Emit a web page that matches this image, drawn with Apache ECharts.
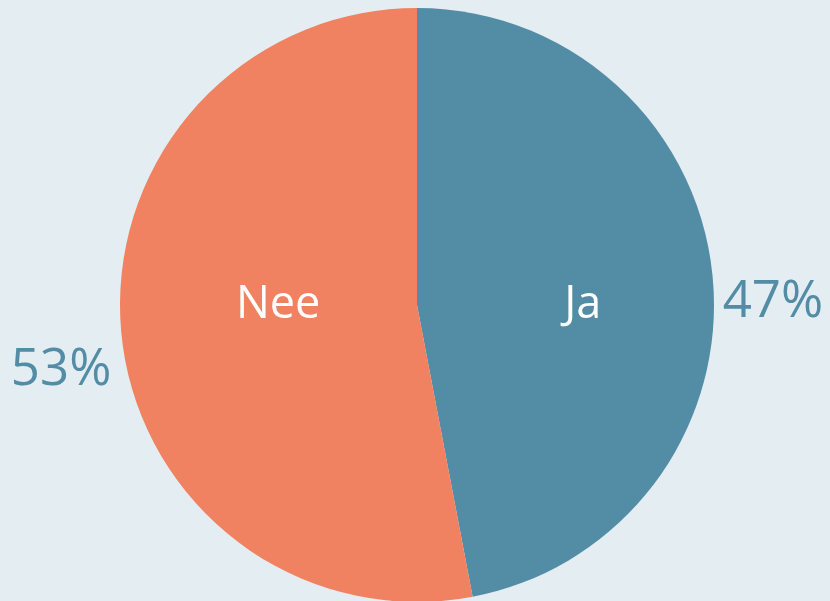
<!DOCTYPE html>
<html>
<head>
<meta charset="utf-8">
<script src="https://cdn.jsdelivr.net/npm/echarts@6/dist/echarts.min.js"></script>
<style>
  html, body { margin: 0; padding: 0; background: #e3edf2; }
  #chart { width: 830px; height: 601px; }
</style>
</head>
<body>
<div id="chart"></div>
<script>
// data
var categories = ['Ja', 'Nee']
var values = [47, 53]
var colors = ['#528ca5', '#f08261']
// label nudges so labels sit where the original has them
var innerOffsets = [[15, 14], [12, -14]]
var outerOffsets = [[0, 26], [0, 37]]

var chart = echarts.init(document.getElementById('chart'))
var font = '"Open Sans", Lato, sans-serif'

chart.setOption({
  backgroundColor: '#e3edf2',
  animation: false,
  series: [
    {
      type: 'pie',
      center: [417, 305],
      radius: 297,
      startAngle: 90,
      clockwise: true,
      silent: true,
      label: {
        show: true,
        position: 'inside',
        color: '#ffffff',
        fontFamily: font,
        fontSize: 45,
        formatter: '{b}'
      },
      labelLine: { show: false },
      data: categories.map(function (c, i) {
        return {
          name: c,
          value: values[i],
          itemStyle: { color: colors[i] },
          label: { offset: innerOffsets[i] }
        }
      })
    },
    {
      type: 'pie',
      center: [417, 305],
      radius: 297,
      startAngle: 90,
      clockwise: true,
      silent: true,
      itemStyle: { color: 'rgba(0,0,0,0)' },
      label: {
        show: true,
        position: 'outside',
        color: '#528ca5',
        fontFamily: font,
        fontSize: 51,
        overflow: 'none',
        formatter: '{c}%'
      },
      labelLine: { show: false, length: 5, length2: 0 },
      data: categories.map(function (c, i) {
        return {
          name: c,
          value: values[i],
          label: { offset: outerOffsets[i] }
        }
      })
    }
  ]
})
</script>
</body>
</html>
